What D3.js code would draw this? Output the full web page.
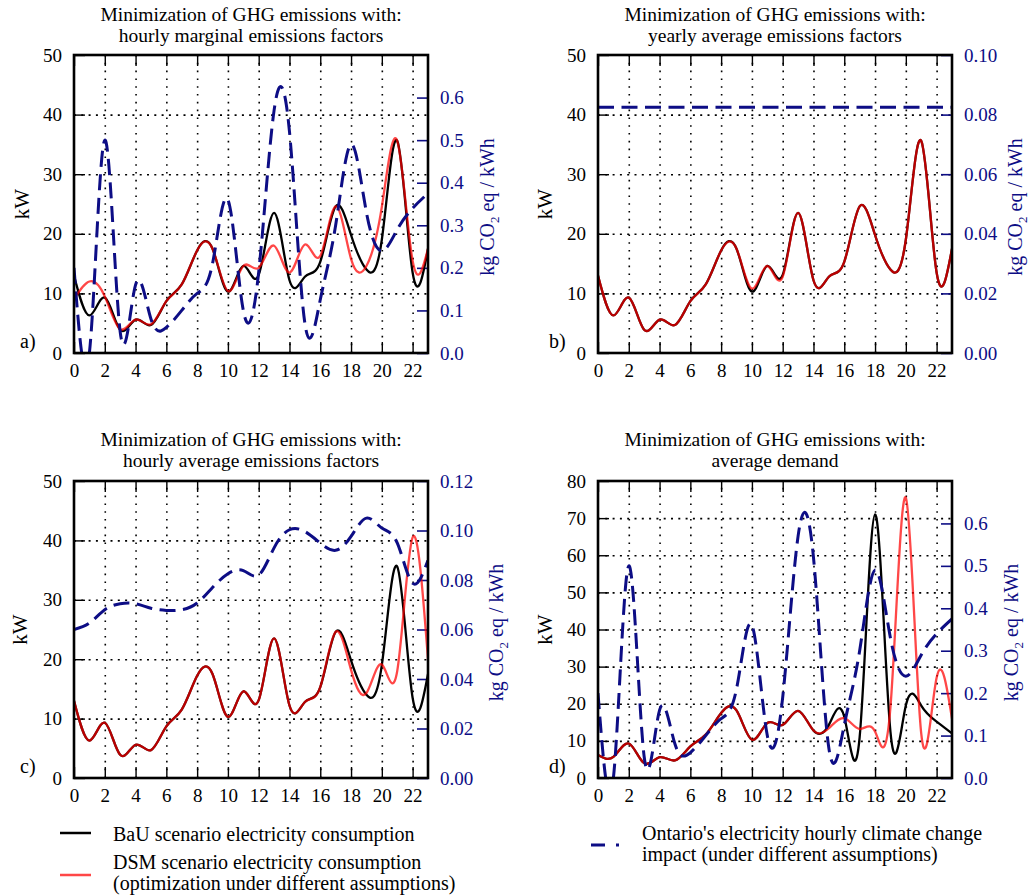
<!DOCTYPE html>
<html><head><meta charset="utf-8">
<script src="https://cdn.jsdelivr.net/npm/d3@7"></script>
<style>
body{margin:0;background:#fff}
svg{display:block}
text{font-family:"Liberation Serif","Times New Roman",serif}
</style>
</head><body>
<svg id="chart" width="1030" height="896" font-family="Liberation Serif, Times New Roman, serif"></svg>
<script>
// ---------- DATA ----------
const hours = [0,1,2,3,4,5,6,7,8,9,10,11,12,13,14,15,16,17,18,19,20,21,22,23];
const xTickValues = [0,2,4,6,8,10,12,14,16,18,20,22];

// BaU scenario (panels a, b, c)
const bauBase = [13,6.3,9.3,3.9,5.6,4.7,8.7,11.5,17.2,17.5,10.3,14.6,13.1,23.5,12.2,12.8,15.3,24.6,19.8,14.0,19.0,35.6,13.5,17.5];
// DSM scenario, panel a (hourly marginal factors)
const dsmA = [9,12,9.5,4.0,5.6,4.8,8.7,11.5,17.2,17.5,10.4,14.6,14.3,18.0,13.5,18.2,16.3,24.6,15.8,14.6,24.5,35.6,15.5,17.5];
// DSM scenario, panel b (yearly average factors)
const dsmB = [13,6.3,9.3,3.9,5.6,4.7,8.7,11.5,17.2,17.5,10.8,14.6,12.8,23.5,12.2,12.8,15.3,24.6,19.8,14.0,19.0,35.6,13.5,17.5];
// DSM scenario, panel c (hourly average factors)
const dsmC = [13,6.3,9.3,3.9,5.6,4.7,8.7,11.5,17.2,17.5,10.3,14.6,13.1,23.5,12.2,12.8,15.3,24.6,18.2,14.3,19.1,18.0,40.5,20.0];
// BaU and DSM, panel d (average demand)
const bauD = [6.2,5.7,9.3,4.0,5.6,4.75,8.5,11.7,17.5,18.2,10.3,14.8,14.3,18.1,12.8,14.3,16.5,11.0,71.0,12.5,19.5,19.5,15.2,12.0];
const dsmD = [6.2,5.7,9.3,4.0,5.6,4.75,8.5,11.7,17.5,18.2,10.3,14.8,14.3,18.1,12.8,13.4,16.1,13.2,12.5,19.0,75.5,12.0,27.0,16.0];

// Ontario emission factors (kg CO2 eq / kWh)
const efMarginal = [0.20,0.0,0.50,0.05,0.16,0.08,0.06,0.10,0.14,0.21,0.36,0.10,0.19,0.57,0.52,0.07,0.125,0.30,0.49,0.33,0.24,0.29,0.34,0.375];
const efYearly = [0.0825,0.0825,0.0825,0.0825,0.0825,0.0825,0.0825,0.0825,0.0825,0.0825,0.0825,0.0825,0.0825,0.0825,0.0825,0.0825,0.0825,0.0825,0.0825,0.0825,0.0825,0.0825,0.0825,0.0825];
const efHourlyAvg = [0.060,0.0626,0.068,0.0704,0.0704,0.0686,0.0677,0.068,0.0707,0.077,0.0825,0.0838,0.082,0.093,0.1003,0.0996,0.0949,0.092,0.0976,0.105,0.101,0.095,0.0787,0.088];

const kwTicks50 = [0,10,20,30,40,50];
const kwTicks80 = [0,10,20,30,40,50,60,70,80];
const efTicks07 = [0,0.1,0.2,0.3,0.4,0.5,0.6];
const efTicks010 = [0,0.02,0.04,0.06,0.08,0.10];
const efTicks012 = [0,0.02,0.04,0.06,0.08,0.10,0.12];

const titlesA = ["Minimization of GHG emissions with:","hourly marginal emissions factors"];
const titlesB = ["Minimization of GHG emissions with:","yearly average emissions factors"];
const titlesC = ["Minimization of GHG emissions with:","hourly average emissions factors"];
const titlesD = ["Minimization of GHG emissions with:","average demand"];

const legendBau = "BaU scenario electricity consumption";
const legendDsm = ["DSM scenario electricity consumption","(optimization under different assumptions)"];
const legendEf = ["Ontario's electricity hourly climate change","impact (under different assumptions)"];

// ---------- LAYOUT / STYLE ----------
const BLUE = "#0d0d85";
const RED = "#ff0000";
const FONT = '"Liberation Serif","Times New Roman",serif';
const panels = [
  {tag:"a)", titles:titlesA, bau:bauBase, dsm:dsmA, ef:efMarginal, kwMax:50, kwTicks:kwTicks50, efMax:0.7, efTicks:efTicks07, efFmt:d3.format(".1f"),
   x0:74, x1:428, y0:55, y1:353, t1:21, t2:42, kwX:29, efX:494, tagX:20},
  {tag:"b)", titles:titlesB, bau:bauBase, dsm:dsmB, ef:efYearly, kwMax:50, kwTicks:kwTicks50, efMax:0.1, efTicks:efTicks010, efFmt:d3.format(".2f"),
   x0:598, x1:952, y0:55, y1:353, t1:21, t2:42, kwX:552, efX:1022, tagX:549},
  {tag:"c)", titles:titlesC, bau:bauBase, dsm:dsmC, ef:efHourlyAvg, kwMax:50, kwTicks:kwTicks50, efMax:0.12, efTicks:efTicks012, efFmt:d3.format(".2f"),
   x0:74, x1:428, y0:481, y1:778, t1:446, t2:467, kwX:27, efX:503, tagX:20},
  {tag:"d)", titles:titlesD, bau:bauD, dsm:dsmD, ef:efMarginal, kwMax:80, kwTicks:kwTicks80, efMax:0.7, efTicks:efTicks07, efFmt:d3.format(".1f"),
   x0:598, x1:952, y0:481, y1:778, t1:446, t2:467, kwX:552, efX:1018, tagX:549}
];

const svg = d3.select("#chart");
const FS = 19;

panels.forEach((p, i) => {
  const x = d3.scaleLinear().domain([0, 23]).range([p.x0, p.x1]);
  const yL = d3.scaleLinear().domain([0, p.kwMax]).range([p.y1, p.y0]);
  const yR = d3.scaleLinear().domain([0, p.efMax]).range([p.y1, p.y0]);
  const w = p.x1 - p.x0, h = p.y1 - p.y0;
  const g = svg.append("g");

  g.append("clipPath").attr("id", "clip" + i)
    .append("rect").attr("x", p.x0).attr("y", p.y0).attr("width", w).attr("height", h);

  // grid
  const gx = g.append("g").attr("transform", `translate(0,${p.y1})`)
    .call(d3.axisBottom(x).tickValues(xTickValues.filter(v => v > 0)).tickSize(-h).tickFormat(""));
  gx.select(".domain").remove();
  gx.selectAll("line").attr("stroke", "#000").attr("stroke-width", 1.6).attr("stroke-dasharray", "1.6 6.2");
  const gy = g.append("g").attr("transform", `translate(${p.x0},0)`)
    .call(d3.axisLeft(yL).tickValues(p.kwTicks.filter(v => v > 0 && v < p.kwMax)).tickSize(-w).tickFormat(""));
  gy.select(".domain").remove();
  gy.selectAll("line").attr("stroke", "#000").attr("stroke-width", 1.6).attr("stroke-dasharray", "2 5.3");

  // axes with inward ticks
  const ab = g.append("g").attr("transform", `translate(0,${p.y1})`)
    .call(d3.axisBottom(x).tickValues(xTickValues).tickSize(-11).tickPadding(11));
  const at = g.append("g").attr("transform", `translate(0,${p.y0})`)
    .call(d3.axisTop(x).tickValues(xTickValues).tickSize(-11).tickFormat(""));
  const al = g.append("g").attr("transform", `translate(${p.x0},0)`)
    .call(d3.axisLeft(yL).tickValues(p.kwTicks).tickSize(-11).tickPadding(12));
  const ar = g.append("g").attr("transform", `translate(${p.x1},0)`)
    .call(d3.axisRight(yR).tickValues(p.efTicks).tickSize(-11).tickPadding(12).tickFormat(p.efFmt));
  [ab, at, al, ar].forEach(a => {
    a.attr("font-family", FONT);
    a.select(".domain").remove();
    a.selectAll("text").attr("font-size", FS).attr("font-family", FONT).attr("fill", "#000");
    a.selectAll("line").attr("stroke", "#000").attr("stroke-width", 1.4);
  });
  ar.selectAll("text").attr("fill", BLUE);
  ar.selectAll("line").attr("stroke", BLUE).attr("stroke-width", 1.6);

  // lines
  const lineKw = d3.line().x((d, j) => x(hours[j])).y(d => yL(d)).curve(d3.curveNatural);
  const lineEf = d3.line().x((d, j) => x(hours[j])).y(d => yR(d)).curve(d3.curveNatural);
  const lg = g.append("g").attr("clip-path", `url(#clip${i})`);
  lg.append("path").datum(p.bau).attr("d", lineKw).attr("fill", "none").attr("stroke", "#000").attr("stroke-width", 2.3);
  lg.append("path").datum(p.dsm).attr("d", lineKw).attr("fill", "none").attr("stroke", RED).attr("stroke-opacity", 0.72).attr("stroke-width", 2.3);
  lg.append("path").datum(p.ef).attr("d", lineEf).attr("fill", "none").attr("stroke", BLUE).attr("stroke-width", 3)
    .attr("stroke-dasharray", "16 7.5");

  // border
  g.append("rect").attr("x", p.x0).attr("y", p.y0).attr("width", w).attr("height", h)
    .attr("fill", "none").attr("stroke", "#000").attr("stroke-width", 2.6);

  // titles
  const cx = (p.x0 + p.x1) / 2;
  g.append("text").attr("x", cx).attr("y", p.t1).attr("text-anchor", "middle").attr("font-size", 19.5).text(p.titles[0]);
  g.append("text").attr("x", cx).attr("y", p.t2).attr("text-anchor", "middle").attr("font-size", 19.5).text(p.titles[1]);

  // axis labels
  const cy = (p.y0 + p.y1) / 2;
  g.append("text").attr("transform", `translate(${p.kwX},${cy}) rotate(-90)`).attr("text-anchor", "middle")
    .attr("font-size", 21).text("kW");
  const ef = g.append("text").attr("transform", `translate(${p.efX},${cy + 3}) rotate(-90)`).attr("text-anchor", "middle")
    .attr("font-size", 20).attr("fill", BLUE);
  ef.append("tspan").text("kg CO");
  ef.append("tspan").attr("font-size", 13).attr("dy", 5).text("2");
  ef.append("tspan").attr("dy", -5).text(" eq / kWh");

  // panel tag
  g.append("text").attr("x", p.tagX).attr("y", p.y1 - 5).attr("font-size", 20).text(p.tag);
});

// ---------- LEGEND ----------
const leg = svg.append("g");
leg.append("line").attr("x1", 60).attr("x2", 91).attr("y1", 833).attr("y2", 833).attr("stroke", "#000").attr("stroke-width", 2.5);
leg.append("text").attr("x", 113).attr("y", 841).attr("font-size", 20).text(legendBau);
leg.append("line").attr("x1", 60).attr("x2", 91).attr("y1", 875).attr("y2", 875).attr("stroke", RED).attr("stroke-opacity", 0.72).attr("stroke-width", 2.5);
leg.append("text").attr("x", 113).attr("y", 869).attr("font-size", 20).text(legendDsm[0]);
leg.append("text").attr("x", 113).attr("y", 890).attr("font-size", 20).text(legendDsm[1]);
leg.append("line").attr("x1", 591).attr("x2", 619).attr("y1", 845).attr("y2", 845).attr("stroke", BLUE).attr("stroke-width", 3).attr("stroke-dasharray", "14 11 3 20");
leg.append("text").attr("x", 642).attr("y", 840).attr("font-size", 20).text(legendEf[0]);
leg.append("text").attr("x", 642).attr("y", 861).attr("font-size", 20).text(legendEf[1]);
</script>
</body></html>
